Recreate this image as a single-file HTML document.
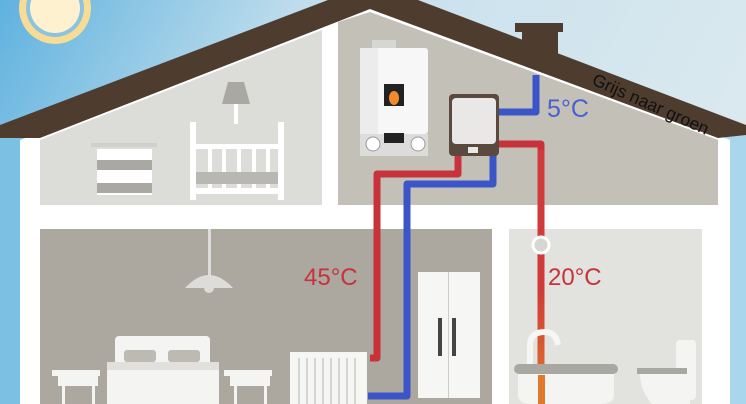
<!DOCTYPE html>
<html><head><meta charset="utf-8"><style>
html,body{margin:0;padding:0;width:746px;height:404px;overflow:hidden}
svg{display:block}
text{font-family:"Liberation Sans",sans-serif}
</style></head><body>
<svg width="746" height="404" viewBox="0 0 746 404" xmlns="http://www.w3.org/2000/svg">
<defs>
<linearGradient id="sky" x1="0" y1="0" x2="1" y2="0.3">
<stop offset="0" stop-color="#5fb2df"/><stop offset="0.4" stop-color="#c6e0ed"/><stop offset="1" stop-color="#dbe9ef"/>
</linearGradient>
<linearGradient id="pipe" gradientUnits="userSpaceOnUse" x1="0" y1="150" x2="0" y2="404">
<stop offset="0" stop-color="#d03a3a"/><stop offset="0.55" stop-color="#d03a3a"/><stop offset="1" stop-color="#e07a2a"/>
</linearGradient>
</defs>
<rect width="746" height="404" fill="url(#sky)"/>
<rect x="0" y="130" width="30" height="274" fill="#7cc0e4"/>
<rect x="716" y="130" width="30" height="274" fill="#a9d6ec"/>
<!-- sun -->
<circle cx="55" cy="8" r="36" fill="#f6dc95"/>
<circle cx="55" cy="8" r="29" fill="#8cc4e0"/>
<circle cx="55" cy="8" r="25" fill="#fdf1cf"/>
<!-- house body -->
<polygon points="20,140 370,9 730,140 730,404 20,404" fill="#ffffff"/>
<polygon points="40,140 322,30 322,205 40,205" fill="#dcdcd9"/>
<polygon points="338,22 370,12 718,140 718,205 338,205" fill="#c3c0b8"/>
<rect x="40" y="229" width="452" height="175" fill="#aca79f"/>
<rect x="509" y="229" width="193" height="175" fill="#e2e2de"/>
<!-- attic left furniture -->
<polygon points="228,82 244,82 250,104 222,104" fill="#aaa8a2"/>
<rect x="234" y="104" width="4" height="20" fill="#fff"/>
<rect x="91" y="143" width="66" height="4" fill="#cfcfcb"/>
<rect x="97" y="149" width="55" height="46" fill="#fff"/>
<rect x="97" y="160" width="55" height="10" fill="#aaa8a2"/>
<rect x="97" y="183" width="55" height="10" fill="#aaa8a2"/>
<rect x="190" y="122" width="6" height="78" fill="#fff"/>
<rect x="278" y="122" width="6" height="78" fill="#fff"/>
<rect x="190" y="144" width="94" height="5" fill="#fff"/>
<rect x="190" y="188" width="94" height="6" fill="#fff"/>
<g fill="#fff"><rect x="208" y="149" width="4" height="40"/><rect x="222" y="149" width="4" height="40"/><rect x="237" y="149" width="4" height="40"/><rect x="252" y="149" width="4" height="40"/><rect x="266" y="149" width="4" height="40"/></g>
<rect x="196" y="172" width="82" height="12" fill="#b9b7b1"/>
<!-- roof -->
<polygon points="0,125 328,0 418,0 746,125 746,135 718,138 370,9 40,138 0,138" fill="#4e3c2f"/>
<rect x="515" y="23" width="48" height="9" fill="#4e3c2f"/>
<rect x="522" y="30" width="36" height="28" fill="#4e3c2f"/>
<!-- pipes -->
<g fill="none" stroke-linejoin="round">
<path d="M458,150 V174 H377 V358 H370" stroke="#c8323a" stroke-width="7"/>
<path d="M493,150 V184 H407 V396 H368" stroke="#3b55c8" stroke-width="7"/>
<path d="M498,112 H536 V75" stroke="#3b55c8" stroke-width="7"/>
<path d="M498,144 H541 V152" stroke="#c8323a" stroke-width="7"/>
</g>
<path d="M541,150 V404" stroke="url(#pipe)" stroke-width="7" fill="none"/>
<circle cx="541" cy="245" r="8" fill="#d7d6d2" stroke="#fff" stroke-width="3"/>
<!-- boiler -->
<rect x="372" y="40" width="24" height="10" fill="#d6d6d2"/>
<rect x="360" y="48" width="68" height="86" rx="3" fill="#f7f7f7"/>
<rect x="360" y="48" width="18" height="86" fill="#ececec"/>
<rect x="360" y="134" width="68" height="22" fill="#dcdcda"/>
<rect x="384" y="84" width="20" height="22" fill="#222"/>
<ellipse cx="394" cy="98" rx="5" ry="7" fill="#f08a2a"/>
<rect x="384" y="133" width="20" height="10" fill="#222"/>
<circle cx="373" cy="144" r="7" fill="#fff" stroke="#999"/>
<circle cx="418" cy="144" r="7" fill="#fff" stroke="#999"/>
<!-- heat pump -->
<rect x="449" y="94" width="50" height="62" rx="4" fill="#5a4a3e"/>
<rect x="452" y="98" width="44" height="46" rx="4" fill="#e9e8e6"/>
<rect x="468" y="147" width="10" height="6" fill="#e9e8e6"/>
<!-- bedroom furniture -->
<rect x="208" y="229" width="3" height="55" fill="#ddd"/>
<path d="M185,288 Q209,262 233,288 Z" fill="#dedcd8"/>
<circle cx="209" cy="288" r="5" fill="#dedcd8"/>
<rect x="115" y="336" width="95" height="45" rx="4" fill="#f4f4f2"/>
<rect x="124" y="350" width="32" height="12" rx="3" fill="#bdbab4"/>
<rect x="168" y="350" width="32" height="12" rx="3" fill="#bdbab4"/>
<rect x="107" y="362" width="112" height="42" fill="#f4f4f2"/>
<rect x="107" y="362" width="112" height="8" fill="#e2e0dc"/>
<rect x="52" y="370" width="48" height="6" fill="#f4f4f2"/>
<rect x="58" y="376" width="40" height="10" fill="#f4f4f2"/>
<rect x="224" y="370" width="48" height="6" fill="#f4f4f2"/>
<rect x="230" y="376" width="40" height="10" fill="#f4f4f2"/>
<rect x="62" y="386" width="3" height="18" fill="#f4f4f2"/><rect x="92" y="386" width="3" height="18" fill="#f4f4f2"/>
<rect x="234" y="386" width="3" height="18" fill="#f4f4f2"/><rect x="264" y="386" width="3" height="18" fill="#f4f4f2"/>
<rect x="290" y="352" width="77" height="52" fill="#f6f6f4"/>
<g fill="#d5d5d2"><rect x="298" y="358" width="2" height="46"/><rect x="306" y="358" width="2" height="46"/><rect x="314" y="358" width="2" height="46"/><rect x="322" y="358" width="2" height="46"/><rect x="330" y="358" width="2" height="46"/><rect x="338" y="358" width="2" height="46"/><rect x="346" y="358" width="2" height="46"/><rect x="354" y="358" width="2" height="46"/></g>
<rect x="418" y="272" width="62" height="126" fill="#f6f6f4"/>
<rect x="448" y="272" width="1" height="126" fill="#ccc"/>
<rect x="438" y="318" width="4" height="38" fill="#444"/>
<rect x="452" y="318" width="4" height="38" fill="#444"/>
<!-- bathroom -->
<path d="M530,390 V345 Q530,332 545,332 Q556,332 558,345" fill="none" stroke="#f6f6f4" stroke-width="6"/>
<rect x="514" y="364" width="104" height="10" rx="5" fill="#a9a7a1"/>
<path d="M518,374 H614 V395 Q614,404 600,404 H532 Q518,404 518,395 Z" fill="#f4f4f2"/>
<rect x="538" y="375" width="7" height="29" fill="#e07a2a"/>
<rect x="676" y="340" width="20" height="60" rx="4" fill="#f4f4f2"/>
<rect x="637" y="368" width="50" height="6" fill="#a9a7a1"/>
<path d="M640,374 H690 V404 H652 Q640,390 640,374 Z" fill="#f4f4f2"/>
<!-- labels -->
<text x="547" y="117" font-size="25" fill="#4a5fd0">5°C</text>
<text x="304" y="285" font-size="24" fill="#c8323a">45°C</text>
<text x="548" y="285" font-size="24" fill="#c8323a">20°C</text>
<text x="591" y="84" font-size="17.5" fill="#111" transform="rotate(24 591 84)">Grijs naar groen</text>
</svg>
</body></html>
